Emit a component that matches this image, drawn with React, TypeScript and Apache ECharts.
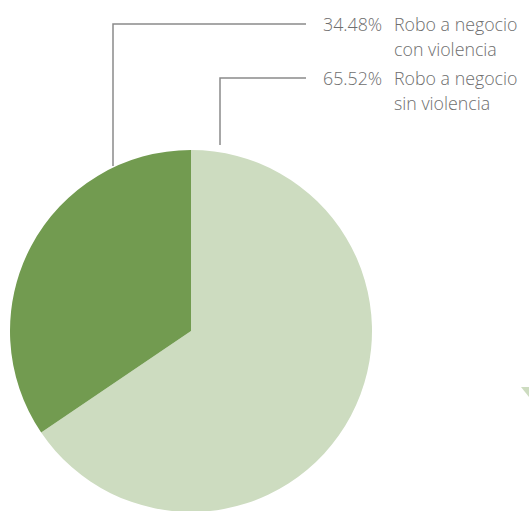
import React, { useEffect, useRef } from "react";
import * as echarts from "echarts";

const categories = ["Robo a negocio\nsin violencia", "Robo a negocio\ncon violencia"];
const values = [65.52, 34.48];
const colors = ["#cddcc0", "#729b50"];

// label anchor positions (annotation layout, not data)
const labelBoxes = [
  { x: 323, y: 65.5, line: [[220, 145], [220, 78], [306, 78]] },
  { x: 323, y: 11.5, line: [[113, 166], [113, 24], [306, 24]] },
];

const FONT = "'Open Sans', Lato, sans-serif";

export default function App() {
  const ref = useRef<HTMLDivElement>(null);
  useEffect(() => {
    document.body.style.margin = "0";
    const chart = echarts.init(ref.current!, null, { renderer: "svg" });
    chart.setOption({
      animation: false,
      backgroundColor: "#ffffff",
      series: [
        {
          type: "pie",
          center: [191, 331],
          radius: 181,
          startAngle: 90,
          clockwise: true,
          avoidLabelOverlap: false,
          data: categories.map((c, i) => ({
            name: c,
            value: values[i],
            itemStyle: { color: colors[i] },
          })),
          label: {
            show: true,
            position: "outside",
            formatter: (p: any) => {
              const parts = String(p.name).split("\n");
              return `{p|${p.value.toFixed(2)}%}{n|${parts[0]}}\n{p|}{n|${parts[1]}}`;
            },
            rich: {
              p: {
                width: 71,
                fontFamily: FONT,
                fontSize: 17.8,
                fontWeight: 300,
                color: "#6e6e6e",
                lineHeight: 25,
              },
              n: {
                fontFamily: FONT,
                fontSize: 17.8,
                fontWeight: 300,
                color: "#6e6e6e",
                lineHeight: 25,
              },
            },
          },
          labelLine: {
            show: true,
            lineStyle: { color: "#8a8a8a", width: 1.5 },
          },
          labelLayout: (params: any) => {
            const b = labelBoxes[params.dataIndex];
            return {
              x: b.x,
              y: b.y,
              align: "left",
              verticalAlign: "top",
              labelLinePoints: b.line,
            };
          },
          emphasis: { disabled: true },
        },
      ],
      graphic: [
        {
          type: "polygon",
          shape: { points: [[521, 387], [529, 387], [529, 397]] },
          style: { fill: "#cddcc0" },
          silent: true,
        },
      ],
    });
    return () => chart.dispose();
  }, []);
  return (
    <div
      ref={ref}
      style={{ position: "fixed", left: 0, top: 0, width: 529, height: 511 }}
    />
  );
}
